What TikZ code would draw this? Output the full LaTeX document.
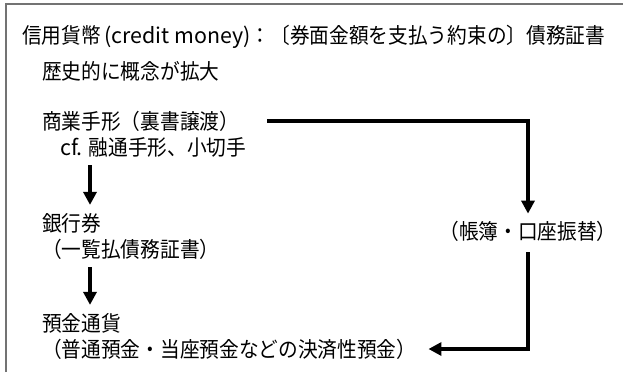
\documentclass[tikz,border=0pt]{standalone}
\usepackage{fontspec}
\setmainfont{Noto Sans CJK JP}[FakeStretch=0.92]
\newfontfamily\lat{Noto Sans CJK JP}
\usetikzlibrary{arrows.meta}
\begin{document}
\begin{tikzpicture}[x=1pt,y=-1pt,
  txt/.style={anchor=west,inner sep=0pt,font=\fontsize{21.4}{25}\selectfont},
  arr/.style={line width=3.5pt,-{Triangle[width=13pt,length=13pt]}},
  framel/.style={draw=black!55,line width=1.5pt}]
\useasboundingbox (0,0) rectangle (623,372);
\draw[framel] (6,372) -- (6,4) -- (623,4);
\node[txt] (title) at (22,37) {信用貨幣{\lat\,(credit money)}：〔券面金額を支払う約束の〕債務証書};
\node[txt] (hist) at (42,71) {歴史的に概念が拡大};
\node[txt] (shogyo) at (42,121) {商業手形（裏書譲渡）};
\node[txt] (cf) at (60,147) {{\lat cf.} 融通手形、小切手};
\node[txt] (ginko) at (42,223) {銀行券};
\node[txt] (ichiran) at (42,249) {（一覧払債務証書）};
\node[txt] (yokin) at (42,323) {預金通貨};
\node[txt] (kessai) at (42,349) {（普通預金・当座預金などの決済性預金）};
\node[txt,anchor=center] (furikae) at (528,231) {（帳簿・口座振替）};
\coordinate (ax) at (90,0);
\draw[arr,shorten <=8pt,shorten >=8pt] (cf.south -| ax) -- (ginko.north -| ax);
\draw[arr,shorten <=8pt,shorten >=8pt] (ichiran.south -| ax) -- (yokin.north -| ax);
\draw[arr,shorten >=7pt] ([xshift=28pt]shogyo.east) -| (furikae.north);
\draw[arr,shorten <=11pt] (furikae.south) |- ([xshift=12pt]kessai.east);
\end{tikzpicture}
\end{document}
